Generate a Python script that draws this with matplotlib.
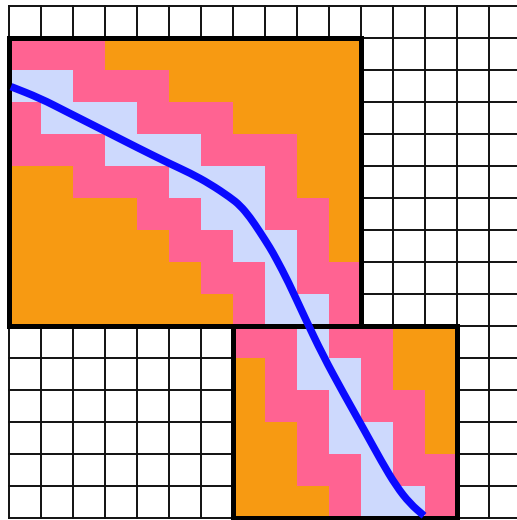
import matplotlib
matplotlib.use("Agg")
import matplotlib.pyplot as plt
from matplotlib.colors import ListedColormap
from matplotlib.patches import Rectangle, PathPatch
from matplotlib.path import Path
import numpy as np

# Grid size (cells)
n_cols = 16
n_rows = 16

# Window 1: columns 0..10, rows 1..9   (O = outside, P = neighbourhood, B = projected path)
win1_origin = (0, 1)
win1_cells = [
    "PPPOOOOOOOO",
    "BBPPPOOOOOO",
    "PBBBPPPOOOO",
    "PPPBBBPPPOO",
    "OOPPPBBBPOO",
    "OOOOPPBBPPO",
    "OOOOOPPBBPO",
    "OOOOOOPPBPP",
    "OOOOOOOPBBP",
]

# Window 2: columns 7..13, rows 10..15
win2_origin = (7, 10)
win2_cells = [
    "PPBPPOO",
    "OPBBPOO",
    "OPPBPPO",
    "OOPBBPO",
    "OOPPBPP",
    "OOOPBBP",
]

# Warping path (column, row)
path_x = [0.06, 0.97, 1.81, 3.06, 4.0, 5.03, 5.66, 6.28, 6.91, 7.22, 7.53, 7.84, 8.16,
          8.34, 8.72, 9.25, 9.8, 10.45, 11.1, 11.65, 12.1, 12.53, 12.97]
path_y = [2.52, 2.88, 3.31, 3.94, 4.42, 4.93, 5.22, 5.56, 5.98, 6.23, 6.6, 7.06, 7.56,
          7.88, 8.6, 9.75, 10.9, 12.1, 13.25, 14.25, 15.0, 15.55, 15.93]

colors = {"O": "#F79A12", "P": "#FF6392", "B": "#CDD9FD"}
codes = {"O": 0, "P": 1, "B": 2}
cmap = ListedColormap([colors["O"], colors["P"], colors["B"]])

W, H = 517, 520
fig = plt.figure(figsize=(W / 100, H / 100), dpi=100)
ax = fig.add_axes([9 / W, 2 / H, 512 / W, 512 / H])
ax.set_xlim(0, n_cols)
ax.set_ylim(n_rows, 0)
ax.axis("off")

# background grid
for i in range(n_cols + 1):
    ax.plot([i, i], [0, n_rows], color="#111111", lw=1.4, zorder=1, clip_on=False)
for j in range(n_rows + 1):
    ax.plot([0, n_cols], [j, j], color="#111111", lw=1.4, zorder=1, clip_on=False)

for origin, cells in [(win1_origin, win1_cells), (win2_origin, win2_cells)]:
    c0, r0 = origin
    arr = np.array([[codes[ch] for ch in row] for row in cells])
    nr, nc = arr.shape
    ax.imshow(arr, cmap=cmap, vmin=0, vmax=2, interpolation="nearest",
              extent=(c0, c0 + nc, r0 + nr, r0), zorder=2, aspect="auto")

for origin, cells in [(win1_origin, win1_cells), (win2_origin, win2_cells)]:
    c0, r0 = origin
    nr, nc = len(cells), len(cells[0])
    ax.add_patch(Rectangle((c0, r0), nc, nr, fill=False, edgecolor="black",
                           lw=3.6, zorder=4, joinstyle="miter", clip_on=False))

# smooth path through the read points (quadratic Bezier via midpoints)
pts = np.column_stack([path_x, path_y])
verts = [pts[0], (pts[0] + pts[1]) / 2]
codes_p = [Path.MOVETO, Path.LINETO]
for i in range(1, len(pts) - 1):
    verts += [pts[i], (pts[i] + pts[i + 1]) / 2]
    codes_p += [Path.CURVE3, Path.CURVE3]
verts.append(pts[-1])
codes_p.append(Path.LINETO)
ax.add_patch(PathPatch(Path(verts, codes_p), fill=False, edgecolor="#0A0AFF",
                       lw=5.4, capstyle="butt", joinstyle="round", zorder=5,
                       clip_on=False))

ax.set_xlim(0, n_cols)
ax.set_ylim(n_rows, 0)
fig.savefig("out.png", dpi=100)
